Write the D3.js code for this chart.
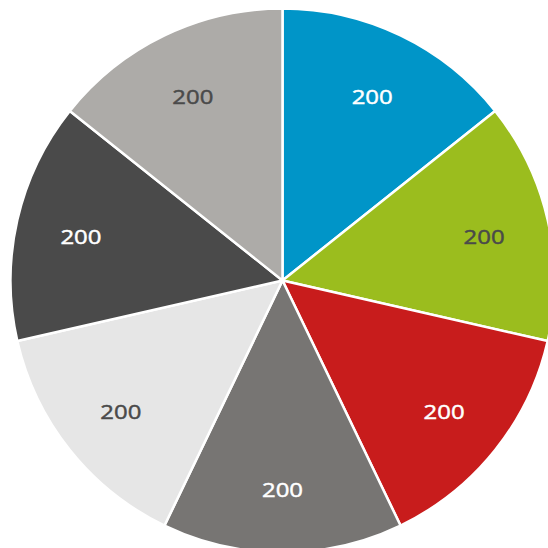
<!DOCTYPE html>
<html><head><meta charset="utf-8">
<script src="https://cdn.jsdelivr.net/npm/d3@7"></script>
<style>html,body{margin:0;padding:0;background:#fff;overflow:hidden}</style>
</head><body>
<svg id="c" width="548" height="548"></svg>
<script>
const categories = ["A","B","C","D","E","F","G"];
const values = [200,200,200,200,200,200,200];
const colors = ["#0095c8","#9bbd1e","#c81c1c","#777573","#e6e6e6","#4a4a4a","#adaba8"];
const labelColors = ["#ffffff","#4a4a4a","#ffffff","#ffffff","#4a4a4a","#ffffff","#4a4a4a"];

const cx = 282.5, cy = 280.5, r = 272;
const svg = d3.select("#c");
const g = svg.append("g").attr("transform", `translate(${cx},${cy})`);
const data = categories.map((c,i)=>({c, v: values[i], i}));
const pie = d3.pie().value(d=>d.v).sort(null);
const arc = d3.arc().innerRadius(0).outerRadius(r);
const labelArc = d3.arc().innerRadius(r*0.76).outerRadius(r*0.76);
const arcs = pie(data);
g.selectAll("path").data(arcs).join("path")
  .attr("d", arc)
  .attr("fill", d=>colors[d.data.i])
  .attr("stroke", "#fff").attr("stroke-width", 2.5).attr("stroke-linejoin","round");
g.selectAll("text").data(arcs).join("text")
  .attr("transform", d=>{const [x,y]=labelArc.centroid(d); return `translate(${x},${y+2}) scale(1.18,1)`;})
  .attr("text-anchor","middle").attr("dy","0.36em")
  .attr("font-family","'Open Sans', 'Noto Sans', sans-serif")
  .attr("font-weight", 400)
  .attr("font-size", 20.3)
  .attr("fill", d=>labelColors[d.data.i])
  .attr("stroke", d=>labelColors[d.data.i])
  .attr("stroke-width", 0.45)
  .text(d=>d.data.v);
</script>
</body></html>
